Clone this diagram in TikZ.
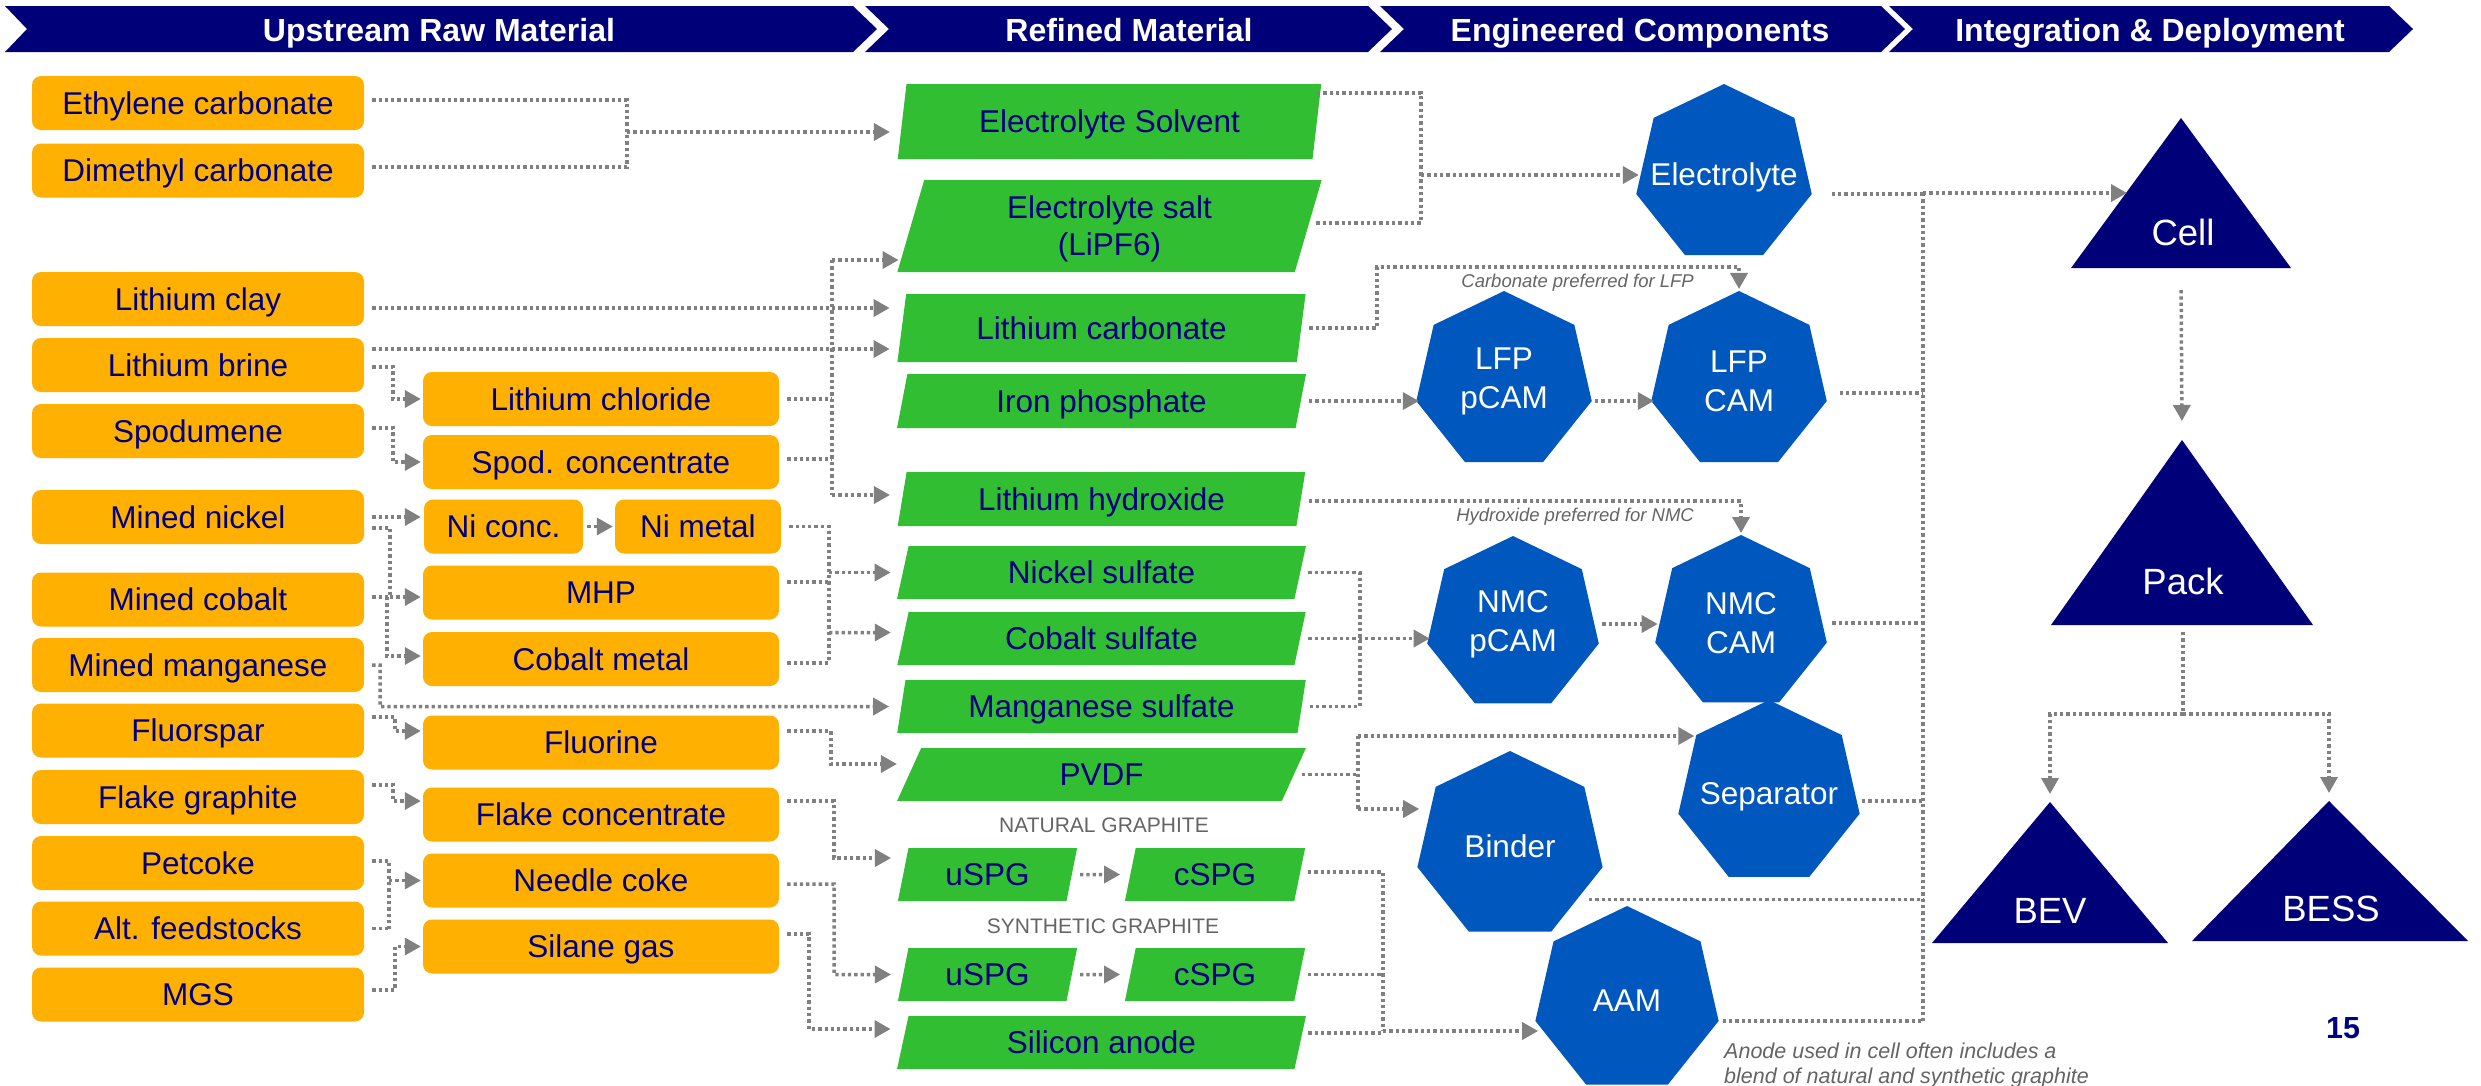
\documentclass[tikz,border=0pt]{standalone}
\usepackage{fontspec}
\setmainfont{Liberation Sans}
\usetikzlibrary{positioning}
\usetikzlibrary{shapes.geometric, arrows.meta, calc}

\definecolor{hdrblue}{RGB}{0,0,120}
\definecolor{txtnavy}{RGB}{0,0,128}
\definecolor{rawor}{RGB}{255,176,0}
\definecolor{refgreen}{RGB}{50,190,50}
\definecolor{compblue}{RGB}{0,88,190}
\definecolor{intnavy}{RGB}{0,0,120}
\definecolor{flowgray}{RGB}{128,128,128}
\definecolor{notegray}{RGB}{100,100,100}

\newcommand{\boxfont}{\fontsize{31.5}{37}\selectfont}

\tikzset{
  hdr/.style={text=white, inner sep=0pt, text height=23pt, text depth=0pt, font=\bfseries\fontsize{32}{38}\selectfont},
  raw/.style={rectangle, rounded corners=9pt, fill=rawor, text=txtnavy, minimum width=332pt, minimum height=54pt, inner sep=0pt, text height=22.5pt, text depth=0pt, font=\boxfont},
  interm/.style={raw, minimum width=356pt},
  refined/.style={trapezium, trapezium left angle=76, trapezium right angle=104, trapezium stretches=true, fill=refgreen, text=txtnavy, minimum width=409pt, minimum height=53pt, inner sep=0pt, text height=22.5pt, text depth=0pt, align=center, font=\boxfont},
  comp/.style={regular polygon, regular polygon sides=7, fill=compblue, text=white, inner sep=0pt, outer sep=0pt, align=center, font=\fontsize{31.5}{39}\selectfont},
  comp1/.style={comp, text height=22.5pt, text depth=0pt},
  integ/.style={text=white, inner sep=0pt, text height=26pt, text depth=0pt, font=\fontsize{36.5}{42}\selectfont},
  grlabel/.style={text=notegray, inner sep=0pt, font=\fontsize{21}{25}\selectfont},
  note/.style={text=notegray, inner sep=0pt, font=\itshape\fontsize{18.5}{22}\selectfont},
  flow/.style={draw=flowgray, line width=3.5pt, dash pattern=on 3.3pt off 3pt, shorten <=8pt},
  bus/.style={flow, shorten <=0pt}
}

\begin{document}
\begin{tikzpicture}[x=1pt, y=-1pt, >={Triangle[length=16pt,width=17pt]}]
    \useasboundingbox (0,0) rectangle (2481,1085);

    % Cabecera (cuatro flechas)
    \fill[hdrblue] (5,6) -- (853,6) -- (877,29) -- (853,52) -- (5,52) -- (27,29) -- cycle;
    \fill[hdrblue] (865,6) -- (1368,6) -- (1392,29) -- (1368,52) -- (865,52) -- (889,29) -- cycle;
    \fill[hdrblue] (1380,6) -- (1881,6) -- (1905,29) -- (1881,52) -- (1380,52) -- (1404,29) -- cycle;
    \fill[hdrblue] (1889,6) -- (2389,6) -- (2413,29) -- (2389,52) -- (1889,52) -- (1913,29) -- cycle;
    \node[hdr] (hraw) at (439,29.5) {Upstream Raw Material};
    \node[hdr] (href) at (1129,29.5) {Refined Material};
    \node[hdr] (heng) at (1640,29.5) {Engineered Components};
    \node[hdr] (hint) at (2150,29.5) {Integration \& Deployment};

    % Materias primas
    \node[raw] (ec) at (198,103) {Ethylene carbonate};
    \node[raw] (dmc) at (198,170.5) {Dimethyl carbonate};
    \node[raw] (liclay) at (198,299) {Lithium clay};
    \node[raw] (librine) at (198,365) {Lithium brine};
    \node[raw] (spod) at (198,431) {Spodumene};
    \node[raw] (minedni) at (198,517) {Mined nickel};
    \node[raw] (minedco) at (198,599.5) {Mined cobalt};
    \node[raw] (minedmn) at (198,665) {Mined manganese};
    \node[raw] (fluorspar) at (198,730.5) {Fluorspar};
    \node[raw] (flakegr) at (198,797) {Flake graphite};
    \node[raw] (petcoke) at (198,863) {Petcoke};
    \node[raw] (altfeed) at (198,928.5) {Alt. feedstocks};
    \node[raw] (mgs) at (198,994.5) {MGS};

    % Productos intermedios
    \node[interm] (licl) at (601,399) {Lithium chloride};
    \node[interm] (spodconc) at (601,462) {Spod. concentrate};
    \node[interm, minimum width=159pt] (niconc) at (503.5,526.5) {Ni conc.};
    \node[interm, minimum width=166pt] (nimetal) at (698,526.5) {Ni metal};
    \node[interm] (mhp) at (601,592.5) {MHP};
    \node[interm] (cometal) at (601,659) {Cobalt metal};
    \node[interm] (fluorine) at (601,742.5) {Fluorine};
    \node[interm] (flakeconc) at (601,814.5) {Flake concentrate};
    \node[interm] (needle) at (601,880.5) {Needle coke};
    \node[interm] (silane) at (601,946.5) {Silane gas};

    % Materiales refinados
    \node[refined, minimum width=425pt, minimum height=75pt] (solvent) at (1109.5,121.5) {Electrolyte Solvent};
    \node[refined, minimum width=425pt, minimum height=92pt, text height=59.5pt] (salt) at (1109.5,226) {Electrolyte salt\\(LiPF6)};
    \node[refined, minimum height=68pt] (li2co3) at (1101.5,328) {Lithium carbonate};
    \node[refined, minimum height=54pt] (fepo4) at (1101.5,401) {Iron phosphate};
    \node[refined, minimum height=54pt] (lioh) at (1101.5,499) {Lithium hydroxide};
    \node[refined] (niso4) at (1101.5,572.5) {Nickel sulfate};
    \node[refined] (coso4) at (1101.5,638.5) {Cobalt sulfate};
    \node[refined] (mnso4) at (1101.5,706.5) {Manganese sulfate};
    \node[refined] (pvdf) at (1101.5,774.5) {PVDF};
    \node[grlabel] (natgr) at (1104,825) {NATURAL GRAPHITE};
    \node[refined, minimum width=181pt] (uspgn) at (987.5,874.5) {uSPG};
    \node[refined, minimum width=182pt] (cspgn) at (1215,874.5) {cSPG};
    \node[grlabel] (syngr) at (1103,926) {SYNTHETIC GRAPHITE};
    \node[refined, minimum width=181pt] (uspgs) at (987.5,974.5) {uSPG};
    \node[refined, minimum width=182pt] (cspgs) at (1215,974.5) {cSPG};
    \node[refined] (sianode) at (1101.5,1042.5) {Silicon anode};

    % Componentes
    \node[comp1, minimum size=180pt] (electrolyte) at (1724,174) {\makebox[0pt]{Electrolyte}};
    \node[comp, minimum size=180pt] (lfpp) at (1504,381) {LFP\\pCAM};
    \node[comp, minimum size=180pt] (lfpc) at (1739,381) {LFP\\CAM};
    \node[comp, minimum size=176pt] (nmcp) at (1513,624) {NMC\\pCAM};
    \node[comp, minimum size=176pt] (nmcc) at (1741,623) {NMC\\CAM};
    \node[comp1, minimum size=186pt] (separator) at (1769,793) {\makebox[0pt]{Separator}};
    \node[comp1, minimum size=190pt] (binder) at (1510,846) {\makebox[0pt]{Binder}};
    \node[comp1, minimum size=188pt] (aam) at (1627,1000) {AAM};

    % Integracion (triangulos)
    \fill[intnavy] (2071,268) -- (2181,118) -- (2291,268) -- cycle;
    \fill[intnavy] (2051,625) -- (2182,440) -- (2313,625) -- cycle;
    \fill[intnavy] (1932,943) -- (2050,802) -- (2168,943) -- cycle;
    \fill[intnavy] (2192,941) -- (2329,801) -- (2468,941) -- cycle;
    \node[integ] (cell) at (2183,232) {Cell};
    \node[integ] (pack) at (2183,581) {Pack};
    \node[integ] (bev) at (2050,910) {BEV};
    \node[integ] (bess) at (2331,908) {BESS};
    \coordinate (cellbase) at (2181,268);
    \coordinate (cellin) at (2127,193);
    \coordinate (packtop) at (2182,440);
    \coordinate (packbase) at (2183,625);
    \coordinate (packsplit) at (2183,714);
    \coordinate (bevtop) at (2050,802);
    \coordinate (besstop) at (2329,801);

    % Notas
    \node[note, anchor=east] (notelfp) at (1694,283) {Carbonate preferred for LFP};
    \node[note, anchor=east] (notenmc) at (1694,517) {Hydroxide preferred for NMC};
    \node[note, font=\itshape\fontsize{21.5}{24.5}\selectfont, anchor=north west, align=left] (noteaam) at (1724,1043) {Anode used in cell often includes a\\blend of natural and synthetic graphite};
    \node[text=txtnavy, inner sep=0pt, font=\bfseries\fontsize{30.5}{34}\selectfont] (pagenum) at (2343,1028) {15};

    % Flujos: electrolito
    \coordinate (jsolv) at (627,132);
    \draw[flow] ([yshift=3pt]ec.east) -| (jsolv);
    \draw[flow] ([yshift=3.5pt]dmc.east) -| (jsolv);
    \draw[bus, ->, shorten >=12pt] (jsolv) -- (jsolv -| solvent.west);

    % Flujos: litio
    \draw[flow, ->, shorten >=12pt] ([yshift=-9pt]liclay.east) -- ([yshift=-9pt]liclay.east -| li2co3.west);
    \draw[flow, ->, shorten >=12pt] ([yshift=16pt]librine.east) -- ([yshift=16pt]librine.east -| li2co3.west);
    \coordinate (jlicl) at (393,399);
    \draw[flow, ->, shorten >=2pt] ([yshift=-2pt]librine.east) -| (jlicl) -- (licl.west);
    \coordinate (jspod) at (393,462);
    \draw[flow, ->, shorten >=2pt] ([yshift=3pt]spod.east) -| (jspod) -- (spodconc.west);
    \coordinate (bli1) at (832,260);
    \coordinate (bli2) at (832,495);
    \draw[flow] (licl.east) -- (licl.east -| bli1);
    \draw[flow] ([yshift=3pt]spodconc.east) -- ([yshift=3pt]spodconc.east -| bli1);
    \draw[bus] (bli1) -- (bli2);
    \draw[bus, ->, shorten >=12pt] (bli1) -- (bli1 -| salt.west);
    \draw[bus, ->, shorten >=12pt] (bli2) -- (bli2 -| lioh.west);

    % Flujos: niquel, cobalto, manganeso
    \draw[flow, ->, shorten >=3pt] (minedni.east) -- (minedni.east -| niconc.west);
    \coordinate (jmhp) at (390,597);
    \draw[flow] ([yshift=-11pt]minedni.east) -| (jmhp);
    \draw[flow] (minedco.east |- jmhp) -- (jmhp);
    \draw[bus, ->, shorten >=2pt] (jmhp) -- (jmhp -| mhp.west);
    \coordinate (jcom) at (387,656);
    \draw[bus, ->, shorten >=2pt] (jmhp -| jcom) -- (jcom) -- (jcom -| cometal.west);
    \draw[flow, ->, shorten <=4pt, shorten >=2pt] (niconc.east) -- (nimetal.west);
    \coordinate (bni) at (829,663);
    \draw[flow] (nimetal.east) -| (bni);
    \draw[flow] ([yshift=-4pt]cometal.east) -- (bni);
    \draw[flow] ([yshift=10.5pt]mhp.east) -- ([yshift=10.5pt]mhp.east -| bni);
    \draw[bus, ->, shorten >=12pt] (bni |- niso4) -- (niso4.west);
    \draw[bus, ->, shorten >=12pt] ([yshift=6pt]bni |- coso4) -- ([yshift=6pt]coso4.west);
    \coordinate (jmn) at (380,706.5);
    \draw[flow, ->, shorten >=12pt] (minedmn.east) -| (jmn) -- (mnso4.west);

    % Flujos: fluor y PVDF
    \coordinate (jfl) at (395,731);
    \draw[flow, ->, shorten >=2pt] ([yshift=13.5pt]fluorspar.east) -| (jfl) -- (jfl -| fluorine.west);
    \coordinate (jpv) at (831,764);
    \draw[flow, ->, shorten >=12pt] ([yshift=11.5pt]fluorine.east) -| (jpv) -- (jpv -| pvdf.west);

    % Flujos: grafito y silicio
    \coordinate (jfk) at (393,801);
    \draw[flow, ->, shorten >=2pt] ([yshift=12pt]flakegr.east) -| (jfk) -- (jfk -| flakeconc.west);
    \coordinate (jusn) at (834,858);
    \draw[flow, ->, shorten >=12pt] ([yshift=13.5pt]flakeconc.east) -| (jusn) -- (jusn -| uspgn.west);
    \coordinate (jpc) at (389,928.5);
    \draw[flow] ([yshift=2pt]petcoke.east) -| (jpc);
    \draw[flow] (altfeed.east) -- (jpc);
    \draw[bus, ->, shorten >=2pt] (jpc |- needle) -- (needle.west);
    \coordinate (jmg) at (395,946.5);
    \draw[flow, ->, shorten >=2pt] ([yshift=4.5pt]mgs.east) -| (jmg) -- (silane.west);
    \coordinate (juss) at (834,974.5);
    \draw[flow, ->, shorten >=12pt] ([yshift=-3.5pt]needle.east) -| (juss) -- (uspgs.west);
    \coordinate (jsi) at (809,1029);
    \draw[flow, ->, shorten >=12pt] ([yshift=12.5pt]silane.east) -| (jsi) -- (jsi -| sianode.west);
    \draw[flow, ->, shorten >=10pt] (uspgn.east) -- (cspgn.west);
    \draw[flow, ->, shorten >=10pt] (uspgs.east) -- (cspgs.west);

    % Flujos hacia componentes
    \coordinate (bel) at (1421,175);
    \draw[flow, shorten <=0pt] ([yshift=28.5pt]solvent.east) -| (bel);
    \draw[flow] ([yshift=3pt]salt.east) -| (bel);
    \draw[bus, ->, shorten >=2pt] (bel) -- (bel -| electrolyte.west);
    \coordinate (jlfp) at (1377,267);
    \draw[flow, ->, shorten >=2pt] (li2co3.east) -| (jlfp) -| (lfpc.north);
    \draw[flow, ->, shorten >=2pt] (fepo4.east) -- (fepo4.east -| lfpp.west);
    \draw[flow, ->, shorten >=2pt] (lfpp.east |- fepo4.east) -- (lfpc.west |- fepo4.east);
    \draw[flow, ->, shorten >=2pt] ([yshift=-2pt]lioh.east) -| (nmcc.north);
    \coordinate (bnmc) at (1360,638.5);
    \draw[flow] (niso4.east) -| (bnmc);
    \draw[flow] (mnso4.east) -| (bnmc);
    \draw[flow, ->, shorten >=2pt] (coso4.east) -- (coso4.east -| nmcp.west);
    \draw[flow, ->, shorten >=2pt] (nmcp.east) -- (nmcp.east -| nmcc.west);
    \coordinate (bpv1) at (1358,736);
    \coordinate (bpv2) at (1358,809);
    \draw[flow] (pvdf.east) -- (pvdf.east -| bpv1);
    \draw[bus] (bpv1) -- (bpv2);
    \draw[bus, ->, shorten >=2pt] (bpv1) -- (bpv1 -| separator.corner 2);
    \draw[bus, ->, shorten >=3pt] (bpv2) -- (bpv2 -| binder.west);
    \coordinate (baam) at (1383,1031);
    \draw[flow] ([yshift=2.5pt]cspgn.east) -| (baam);
    \draw[flow] (cspgs.east) -- (cspgs.east -| baam);
    \draw[flow] ([yshift=9.5pt]sianode.east) -- ([yshift=9.5pt]sianode.east -| baam);
    \draw[bus, ->, shorten >=2pt] (baam) -- (baam -| aam.west);

    % Flujos hacia la celda
    \coordinate (bcell) at (1923,193);
    \draw[bus] (bcell) -- (bcell |- aam.corner 6);
    \draw[bus, ->] (bcell) -- (cellin);
    \draw[flow, shorten <=20pt] (electrolyte.corner 6) -- (electrolyte.corner 6 -| bcell);
    \draw[flow, shorten <=13pt] ([yshift=8pt]lfpc.corner 6) -- ([yshift=8pt]lfpc.corner 6 -| bcell);
    \draw[flow, shorten <=10pt] (nmcc.east) -- (nmcc.east -| bcell);
    \draw[flow, shorten <=7pt] ([yshift=-8pt]separator.east) -- ([yshift=-8pt]separator.east -| bcell);
    \draw[flow, shorten <=12pt] (binder.side 5) -- (binder.side 5 -| bcell);
    \draw[flow, shorten <=4pt] (aam.corner 6) -- (aam.corner 6 -| bcell);

    % Celda, paquete y usos
    \draw[flow, ->, shorten <=22pt, shorten >=19pt] (cellbase) -- (packtop);
    \draw[flow, shorten <=7pt] (packbase) -- (packsplit);
    \draw[bus, ->, shorten >=8pt] (packsplit) -| (bevtop);
    \draw[bus, ->, shorten >=8pt] (packsplit) -| (besstop);
\end{tikzpicture}
\end{document}
